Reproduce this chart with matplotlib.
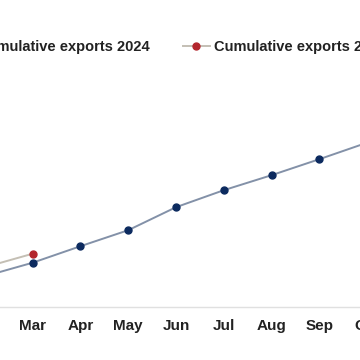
import matplotlib
matplotlib.use("Agg")
import matplotlib.pyplot as plt

plt.rcParams['font.family'] = ['Liberation Sans', 'DejaVu Sans']

months = ["Jan", "Feb", "Mar", "Apr", "May", "Jun", "Jul", "Aug", "Sep", "Oct", "Nov", "Dec"]

# Cumulative exports (estimated units), Feb..Oct for 2024, Feb..Mar for 2025
months_2024 = ["Feb", "Mar", "Apr", "May", "Jun", "Jul", "Aug", "Sep", "Oct"]
exports_2024 = [6.1, 8.8, 12.1, 15.3, 19.9, 23.3, 26.3, 29.5, 32.8]
months_2025 = ["Feb", "Mar"]
exports_2025 = [7.9, 10.6]

idx = {m: i for i, m in enumerate(months)}
x24 = [idx[m] for m in months_2024]
x25 = [idx[m] for m in months_2025]

fig = plt.figure(figsize=(3.6, 3.6), dpi=100)
px_per_month = (319.3 - 32.7) / 6
base_px = 306.7
top_px = 75.0
ext = 180.0  # axes extend beyond the visible (cropped) frame
ax = fig.add_axes([-ext / 360, (360 - base_px) / 360, (360 + 2 * ext) / 360,
                   (base_px - top_px) / 360])

l24, = ax.plot(x24, exports_2024, color='#8391a8', lw=1.4, marker='o', ms=5,
               mfc='#0c2a5f', mec='#0c2a5f', label='Cumulative exports 2024', zorder=3)
l25, = ax.plot(x25, exports_2025, color='#c4bfb4', lw=1.4, marker='o', ms=5,
               mfc='#b3262d', mec='#b3262d', label='Cumulative exports 2025', zorder=2)

for s in ['top', 'right', 'left']:
    ax.spines[s].set_visible(False)
ax.spines['bottom'].set_color('#e0e0e0')
ax.spines['bottom'].set_linewidth(1.0)
ax.set_yticks([])
ax.set_xticks(range(12))
ax.set_xticklabels(months, fontsize=11, fontweight='bold', color='#222222')
ax.tick_params(axis='x', length=0, pad=9)

left = 2 - (32.7 + ext) / px_per_month
ax.set_xlim(left, left + (360 + 2 * ext) / px_per_month)
ax.set_ylim(0, (base_px - top_px) / 5.0)

leg = fig.legend(handles=[l24, l25], loc='center', bbox_to_anchor=(166 / 360, 1 - 47 / 360),
                 ncol=2, frameon=False, handlelength=1.85, handletextpad=0.3,
                 columnspacing=2.3, prop={'size': 10.5, 'weight': 'bold'})
for t in leg.get_texts():
    t.set_color('#222222')

fig.savefig('out.png', dpi=100)
